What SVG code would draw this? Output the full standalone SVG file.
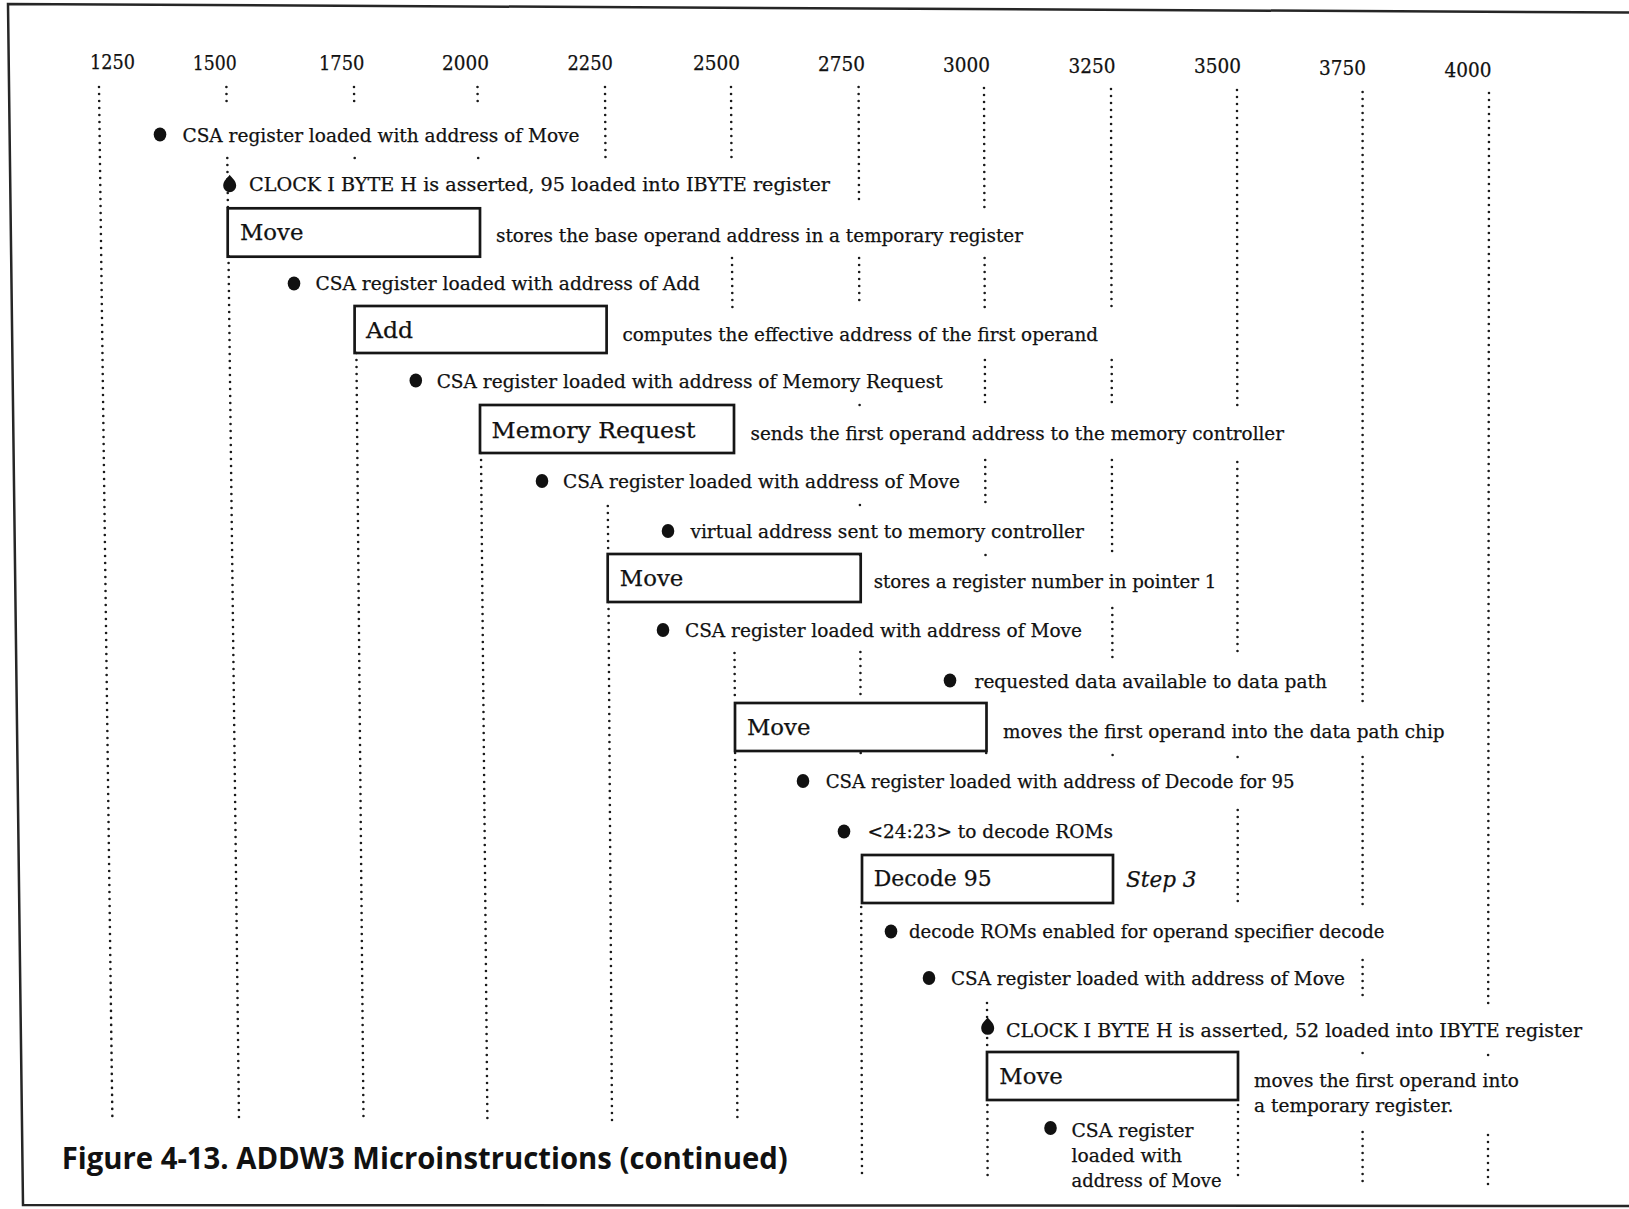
<svg xmlns="http://www.w3.org/2000/svg" xmlns:xlink="http://www.w3.org/1999/xlink" width="1629" height="1209" viewBox="0 0 1629 1209">
  <style>
    .t { font-family: "DejaVu Serif", "Liberation Serif", serif; font-size: 18px; fill: #111; stroke: #111; stroke-width: 0.25; }
    .lbl { font-size: 23px; }
    .tick { font-size: 20px; }
    .ital { font-style: italic; font-size: 23px; }
    .cap { font-family: "Open Sans", "Noto Sans", "Liberation Sans", sans-serif; font-weight: 700; font-size: 30px; fill: #111; }
    .box { fill: none; stroke: #161616; stroke-width: 2.7; }
    .grid { fill: none; stroke: #1a1a1a; stroke-width: 2.6; stroke-linecap: round; stroke-dasharray: 0 7; }
    .gdot { fill: #1a1a1a; }
    .frame { fill: none; stroke: #262626; stroke-width: 2.5; }
    .mark { fill: #111; }
  </style>
  <defs>
    <ellipse id="bul" rx="6.3" ry="7"/>
    <path id="drop" d="M0,-11 C2,-8 6.5,-5 6.5,0 A6.5,6.5 0 0 1 -6.5,0 C-6.5,-5 -2,-8 0,-11 Z"/>
  </defs>

  <rect width="1629" height="1209" fill="#ffffff"/>

  <!-- page frame -->
  <path class="frame" d="M1629,12.5 L8,4 L23,1205 L1629,1206"/>

  <!-- time axis labels -->
  <g id="axis" class="t tick">
    <text x="90" y="69.3" textLength="45" lengthAdjust="spacingAndGlyphs">1250</text>
    <text x="192.7" y="69.5" textLength="44" lengthAdjust="spacingAndGlyphs">1500</text>
    <text x="319" y="69.5" textLength="45.5" lengthAdjust="spacingAndGlyphs">1750</text>
    <text x="442" y="70" textLength="47" lengthAdjust="spacingAndGlyphs">2000</text>
    <text x="567.5" y="70" textLength="45.5" lengthAdjust="spacingAndGlyphs">2250</text>
    <text x="693" y="70" textLength="47" lengthAdjust="spacingAndGlyphs">2500</text>
    <text x="818" y="70.7" textLength="47" lengthAdjust="spacingAndGlyphs">2750</text>
    <text x="943" y="72" textLength="47" lengthAdjust="spacingAndGlyphs">3000</text>
    <text x="1068.5" y="72.7" textLength="47" lengthAdjust="spacingAndGlyphs">3250</text>
    <text x="1194" y="73" textLength="47" lengthAdjust="spacingAndGlyphs">3500</text>
    <text x="1319" y="75" textLength="47" lengthAdjust="spacingAndGlyphs">3750</text>
    <text x="1444.6" y="76.7" textLength="47" lengthAdjust="spacingAndGlyphs">4000</text>
  </g>

  <!-- dotted time gridlines, broken where labels cross them -->
  <g id="connectors">
    <path id="g1250" class="grid" d="M99,87 L112.4,1120"/>
    <path id="g1500" class="grid" d="M226.4,87 L226.6,105 M227.3,158 L227.9,208 M228.5,256 L239,1120"/>
    <path id="g1750" class="grid" d="M354,87 L354.2,105 M356.4,353 L363.5,1120"/>
    <path id="g2000" class="grid" d="M477.5,87 L477.7,105 M481,453 L487.4,1120"/>
    <path id="g2250" class="grid" d="M605,87 L605.5,160 M607.8,506 L608.2,554 M608.5,602 L612,1120"/>
    <path id="g2500" class="grid" d="M731,87 L731.5,160 M732,258 L732.4,307 M734.5,653 L734.8,695 M735.1,753 L737.4,1120"/>
    <path id="g2750" class="grid" d="M858.6,87 L859,205 M859.1,258 L859.3,305 M860.4,652 L860.5,700 M861.2,907 L862,1177"/>
    <path id="g3000" class="grid" d="M984,88 L984.4,208 M984.6,258 L984.7,308 M984.9,360 L985,405 M985.2,460 L985.4,502 M987,1003 L987.2,1050 M987.4,1105 L987.6,1178"/>
    <path id="g3250" class="grid" d="M1111,89 L1111.5,308 M1111.7,360 L1111.8,408 M1111.9,460 L1112.1,555 M1112.3,608 L1112.4,657"/>
    <path id="g3500" class="grid" d="M1237,90 L1237.3,410 M1237.3,462 L1237.5,657 M1237.7,810 L1237.75,907 M1238,1105 L1238,1182"/>
    <path id="g3750" class="grid" d="M1362.6,92 L1362.6,705 M1362.6,757 L1362.6,907 M1362.6,960 L1362.6,1002 M1362.6,1132 L1362.6,1182"/>
    <path id="g4000" class="grid" d="M1489,93 L1488.2,1003 M1488,1135 L1488,1187"/>
    <g class="gdot">
      <circle cx="354.7" cy="158" r="1.3"/>
      <circle cx="478.2" cy="158" r="1.3"/>
      <circle cx="859.6" cy="405" r="1.3"/>
      <circle cx="859.9" cy="505" r="1.3"/>
      <circle cx="860.1" cy="555" r="1.3"/>
      <circle cx="860.7" cy="753" r="1.3"/>
      <circle cx="985.5" cy="555" r="1.3"/>
      <circle cx="986.2" cy="753" r="1.3"/>
      <circle cx="1112.6" cy="755" r="1.3"/>
      <circle cx="1237.6" cy="757" r="1.3"/>
      <circle cx="1362.6" cy="1053" r="1.3"/>
      <circle cx="1488.1" cy="1055" r="1.3"/>
    </g>
  </g>

  <!-- events and microinstructions, top to bottom -->
  <g id="ev-csa-move-1">
    <use href="#bul" class="mark" x="160" y="134.5"/>
    <text class="t" x="182.5" y="141.5" textLength="397" lengthAdjust="spacingAndGlyphs">CSA register loaded with address of Move</text>
  </g>
  <g id="ev-clock-95">
    <use href="#drop" class="mark" x="229.7" y="185.7"/>
    <text class="t" x="249" y="190.5" textLength="581" lengthAdjust="spacingAndGlyphs">CLOCK I BYTE H is asserted, 95 loaded into IBYTE register</text>
  </g>
  <g id="mi-move-1">
    <rect class="box" x="227.7" y="208.3" width="252.3" height="48.4"/>
    <text class="t lbl" x="240" y="240" textLength="63.5" lengthAdjust="spacingAndGlyphs">Move</text>
    <text class="t" x="496" y="242" textLength="527" lengthAdjust="spacingAndGlyphs">stores the base operand address in a temporary register</text>
  </g>
  <g id="ev-csa-add">
    <use href="#bul" class="mark" x="294" y="283.5"/>
    <text class="t" x="315.5" y="290" textLength="384.5" lengthAdjust="spacingAndGlyphs">CSA register loaded with address of Add</text>
  </g>
  <g id="mi-add">
    <rect class="box" x="354.6" y="306" width="252" height="47"/>
    <text class="t lbl" x="366" y="338" textLength="47" lengthAdjust="spacingAndGlyphs">Add</text>
    <text class="t" x="622.5" y="341" textLength="475.5" lengthAdjust="spacingAndGlyphs">computes the effective address of the first operand</text>
  </g>
  <g id="ev-csa-memreq">
    <use href="#bul" class="mark" x="415.8" y="380.5"/>
    <text class="t" x="436.7" y="388" textLength="506" lengthAdjust="spacingAndGlyphs">CSA register loaded with address of Memory Request</text>
  </g>
  <g id="mi-memreq">
    <rect class="box" x="480" y="405" width="254" height="48"/>
    <text class="t lbl" x="491.6" y="438" textLength="204" lengthAdjust="spacingAndGlyphs">Memory Request</text>
    <text class="t" x="750.5" y="440" textLength="533.5" lengthAdjust="spacingAndGlyphs">sends the first operand address to the memory controller</text>
  </g>
  <g id="ev-csa-move-2">
    <use href="#bul" class="mark" x="542" y="481"/>
    <text class="t" x="563" y="488" textLength="397" lengthAdjust="spacingAndGlyphs">CSA register loaded with address of Move</text>
  </g>
  <g id="ev-virtual-addr">
    <use href="#bul" class="mark" x="668" y="531"/>
    <text class="t" x="690.4" y="538" textLength="393.6" lengthAdjust="spacingAndGlyphs">virtual address sent to memory controller</text>
  </g>
  <g id="mi-move-2">
    <rect class="box" x="607.7" y="554" width="253" height="48"/>
    <text class="t lbl" x="619.8" y="586" textLength="63.5" lengthAdjust="spacingAndGlyphs">Move</text>
    <text class="t" x="873.7" y="588" textLength="342.7" lengthAdjust="spacingAndGlyphs">stores a register number in pointer 1</text>
  </g>
  <g id="ev-csa-move-3">
    <use href="#bul" class="mark" x="663" y="630"/>
    <text class="t" x="685" y="636.5" textLength="397" lengthAdjust="spacingAndGlyphs">CSA register loaded with address of Move</text>
  </g>
  <g id="ev-data-avail">
    <use href="#bul" class="mark" x="950" y="680.5"/>
    <text class="t" x="974.5" y="687.5" textLength="352.5" lengthAdjust="spacingAndGlyphs">requested data available to data path</text>
  </g>
  <g id="mi-move-3">
    <rect class="box" x="735" y="703" width="251.5" height="48"/>
    <text class="t lbl" x="747" y="735" textLength="63.5" lengthAdjust="spacingAndGlyphs">Move</text>
    <text class="t" x="1003" y="738" textLength="441.6" lengthAdjust="spacingAndGlyphs">moves the first operand into the data path chip</text>
  </g>
  <g id="ev-csa-decode">
    <use href="#bul" class="mark" x="803" y="781"/>
    <text class="t" x="825.7" y="788" textLength="469" lengthAdjust="spacingAndGlyphs">CSA register loaded with address of Decode for 95</text>
  </g>
  <g id="ev-decode-roms">
    <use href="#bul" class="mark" x="844" y="831.5"/>
    <text class="t" x="867.5" y="838" textLength="245.5" lengthAdjust="spacingAndGlyphs">&lt;24:23&gt; to decode ROMs</text>
  </g>
  <g id="mi-decode-95">
    <rect class="box" x="862" y="855" width="251" height="48"/>
    <text class="t lbl" x="873.7" y="886" textLength="118" lengthAdjust="spacingAndGlyphs">Decode 95</text>
    <text class="t ital" x="1126" y="887" textLength="70.5" lengthAdjust="spacingAndGlyphs">Step 3</text>
  </g>
  <g id="ev-roms-enabled">
    <use href="#bul" class="mark" x="891" y="931.5"/>
    <text class="t" x="909" y="938" textLength="475.5" lengthAdjust="spacingAndGlyphs">decode ROMs enabled for operand specifier decode</text>
  </g>
  <g id="ev-csa-move-4">
    <use href="#bul" class="mark" x="929" y="978"/>
    <text class="t" x="951" y="985" textLength="394" lengthAdjust="spacingAndGlyphs">CSA register loaded with address of Move</text>
  </g>
  <g id="ev-clock-52">
    <use href="#drop" class="mark" x="987.7" y="1028.3"/>
    <text class="t" x="1006" y="1036.5" textLength="576" lengthAdjust="spacingAndGlyphs">CLOCK I BYTE H is asserted, 52 loaded into IBYTE register</text>
  </g>
  <g id="mi-move-4">
    <rect class="box" x="987" y="1052" width="251" height="48"/>
    <text class="t lbl" x="999.3" y="1084" textLength="63.5" lengthAdjust="spacingAndGlyphs">Move</text>
    <text class="t" x="1254" y="1086.5" textLength="264.8" lengthAdjust="spacingAndGlyphs">moves the first operand into</text>
    <text class="t" x="1254" y="1111.5" textLength="199.5" lengthAdjust="spacingAndGlyphs">a temporary register.</text>
  </g>
  <g id="ev-csa-move-5">
    <use href="#bul" class="mark" x="1050.5" y="1128"/>
    <text class="t" x="1071.5" y="1136.5" textLength="122" lengthAdjust="spacingAndGlyphs">CSA register</text>
    <text class="t" x="1071.5" y="1161.5" textLength="110.5" lengthAdjust="spacingAndGlyphs">loaded with</text>
    <text class="t" x="1071.5" y="1186.5" textLength="150" lengthAdjust="spacingAndGlyphs">address of Move</text>
  </g>

  <!-- caption -->
  <g id="caption">
    <text class="cap" x="61.7" y="1169" textLength="726" lengthAdjust="spacingAndGlyphs">Figure 4-13. ADDW3 Microinstructions (continued)</text>
  </g>
</svg>
